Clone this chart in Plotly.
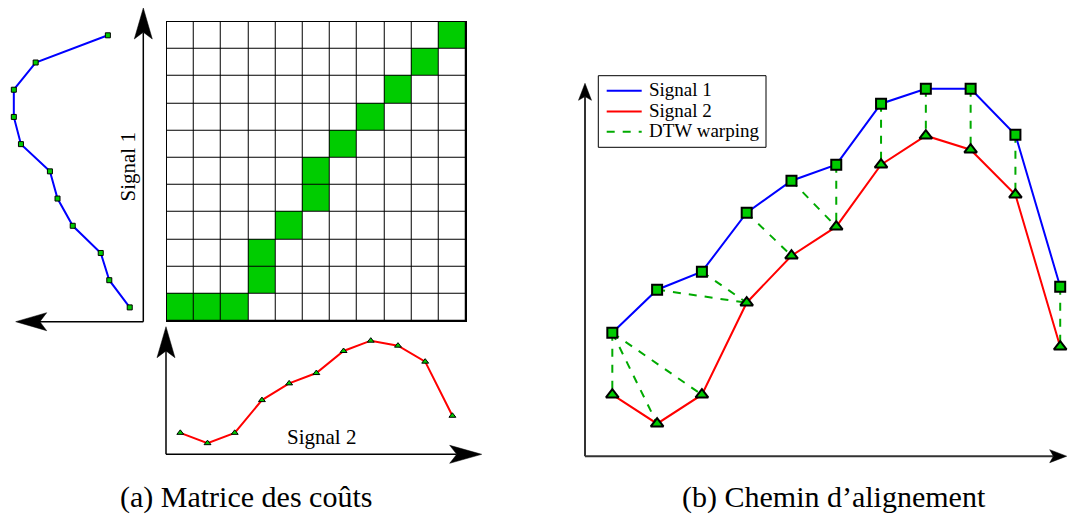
import plotly.graph_objects as go

W, H = 1068, 515

# valeurs
signal_1 = [1.24, 1.67, 1.85, 2.44, 2.76, 2.92, 3.53, 3.68, 3.68, 3.22, 1.70]
signal_2 = [0.62, 0.33, 0.62, 1.54, 2.01, 2.30, 2.92, 3.21, 3.07, 2.62, 1.10]
idx = list(range(11))

# chemin DTW : indice dans signal 1, indice dans signal 2
path_i = [0, 0, 0, 1, 2, 3, 4, 5, 6, 7, 8, 9, 10]
path_j = [0, 1, 2, 3, 3, 4, 5, 5, 6, 7, 8, 9, 10]

label_1 = "Signal 1"
label_2 = "Signal 2"
label_dtw = "DTW warping"
caption_a = "(a) Matrice des coûts"
caption_b = "(b) Chemin d’alignement"

GREEN = "#00cc00"
DASH_GREEN = "#00aa00"
SERIF = "Liberation Serif"
DASH = "8px,8px"

# matrice des couts : 1 sur le chemin
z = [[0] * len(signal_2) for _ in signal_1]
for i, j in zip(path_i, path_j):
    z[i][j] = 1

# segments d'alignement
wx, wy = [], []
for i, j in zip(path_i, path_j):
    wx += [idx[i], idx[j], None]
    wy += [signal_1[i], signal_2[j], None]

fig = go.Figure()

# (a) signal 1 vertical, a gauche
fig.add_trace(go.Scatter(x=signal_1, y=idx, xaxis="x", yaxis="y2", mode="lines+markers",
                         line=dict(color="blue", width=2), cliponaxis=False,
                         marker=dict(symbol="square", size=5, color=GREEN,
                                     line=dict(color="black", width=1))))
# (a) matrice
fig.add_trace(go.Heatmap(z=z, x=idx, y=idx, xaxis="x2", yaxis="y2", xgap=1, ygap=1,
                         colorscale=[[0, "white"], [1, GREEN]], zmin=0, zmax=1,
                         showscale=False, hoverinfo="skip"))
# (a) signal 2 en bas
fig.add_trace(go.Scatter(x=idx, y=signal_2, xaxis="x2", yaxis="y4", mode="lines+markers",
                         line=dict(color="red", width=2), cliponaxis=False,
                         marker=dict(symbol="triangle-up", size=6, color=GREEN,
                                     line=dict(color="black", width=1))))

# (b) chemin d'alignement
fig.add_trace(go.Scatter(x=wx, y=wy, xaxis="x3", yaxis="y3", mode="lines", name=label_dtw,
                         line=dict(color=DASH_GREEN, width=2, dash=DASH)))
fig.add_trace(go.Scatter(x=idx, y=signal_1, xaxis="x3", yaxis="y3", mode="lines", name=label_1,
                         line=dict(color="blue", width=2)))
fig.add_trace(go.Scatter(x=idx, y=signal_2, xaxis="x3", yaxis="y3", mode="lines", name=label_2,
                         line=dict(color="red", width=2)))
fig.add_trace(go.Scatter(x=idx, y=signal_1, xaxis="x3", yaxis="y3", mode="markers",
                         cliponaxis=False,
                         marker=dict(symbol="square", size=10, color=GREEN,
                                     line=dict(color="black", width=2))))
fig.add_trace(go.Scatter(x=idx, y=signal_2, xaxis="x3", yaxis="y3", mode="markers",
                         cliponaxis=False,
                         marker=dict(symbol="triangle-up", size=11, color=GREEN,
                                     line=dict(color="black", width=2))))

hidden = dict(visible=False)
grid_axis = dict(range=[-0.5, 10.5], showgrid=False, zeroline=False, showticklabels=False,
                 ticks="", showline=True, mirror=True, linecolor="black", linewidth=1)

fig.update_layout(
    width=W, height=H, autosize=False,
    margin=dict(l=0, r=0, t=0, b=0),
    paper_bgcolor="white", plot_bgcolor="white",
    showlegend=False,
    xaxis=dict(domain=[0, 143.3 / W], range=[3.971, 0.954], anchor="y2", **hidden),
    yaxis=dict(**hidden),
    xaxis2=dict(domain=[166.7 / W, 466 / W], anchor="y2", **grid_axis),
    yaxis2=dict(domain=[1 - 321 / H, 1 - 21.7 / H], anchor="x2", **grid_axis),
    yaxis4=dict(domain=[1 - 454.3 / H, 1 - 330 / H], range=[0.017, 3.51], anchor="x2", **hidden),
    xaxis3=dict(domain=[585 / W, 1], range=[-0.61, 10.174], anchor="y3", **hidden),
    yaxis3=dict(domain=[1 - 456.7 / H, 1], range=[0, 4.567], anchor="x3", **hidden),
    font=dict(family=SERIF, color="black"),
)

# fond noir sous la matrice -> lignes de grille
fig.add_shape(type="rect", xref="x2", yref="y2", x0=-0.5, x1=10.5, y0=-0.5, y1=10.5,
              fillcolor="black", line=dict(width=0), layer="below")


def arrow(x0, y0, x1, y1, length, width, lw, color):
    # axe avec une pointe de fleche (coordonnees en pixels)
    dx, dy = x1 - x0, y1 - y0
    norm = (dx * dx + dy * dy) ** 0.5
    ux, uy = dx / norm, dy / norm
    nx, ny = -uy, ux
    notch = (x1 - 0.78 * length * ux, y1 - 0.78 * length * uy)
    pts = [(x1, y1),
           (x1 - length * ux + width / 2 * nx, y1 - length * uy + width / 2 * ny),
           notch,
           (x1 - length * ux - width / 2 * nx, y1 - length * uy - width / 2 * ny)]
    fig.add_shape(type="line", xref="paper", yref="paper",
                  x0=x0 / W, y0=1 - y0 / H, x1=notch[0] / W, y1=1 - notch[1] / H,
                  line=dict(color=color, width=lw))
    path = "M" + " L".join(f"{px / W:.5f},{1 - py / H:.5f}" for px, py in pts) + " Z"
    fig.add_shape(type="path", xref="paper", yref="paper", path=path,
                  fillcolor="black", line=dict(color="black", width=0.5))


arrow(143.3, 321.7, 143.3, 8, 31, 18, 1.5, "black")
arrow(143.3, 321.7, 15.7, 321.7, 31, 18, 1.5, "black")
arrow(166, 454.3, 166, 326.7, 31, 18, 1.5, "black")
arrow(166, 454.3, 481.7, 454.3, 32, 18, 1.5, "black")
arrow(585, 456.2, 585, 83.3, 17, 13, 2, "#333333")
arrow(585, 456.2, 1066.7, 456.2, 17, 13, 2, "#333333")


def label(text, x, y, size, angle=0, anchor="center"):
    fig.add_annotation(text=text, x=x / W, y=1 - y / H, xref="paper", yref="paper",
                       xanchor=anchor, yanchor="middle", showarrow=False,
                       textangle=angle, font=dict(family=SERIF, size=size))


label(label_1, 127, 167.5, 21, -90)
label(label_2, 321, 437, 21)
label(caption_a, 246, 497, 30)
label(caption_b, 834, 497, 30)

# legende du panneau (b)
fig.add_shape(type="rect", xref="paper", yref="paper",
              x0=598.3 / W, x1=766 / W, y0=1 - 147.3 / H, y1=1 - 75.7 / H,
              fillcolor="white", line=dict(color="black", width=1))
legend_rows = [(label_1, "blue", "solid", 90.7), (label_2, "red", "solid", 111.5),
               (label_dtw, DASH_GREEN, DASH, 131.7)]
for text, color, dash, yy in legend_rows:
    fig.add_shape(type="line", xref="paper", yref="paper",
                  x0=606.7 / W, x1=641.7 / W, y0=1 - yy / H, y1=1 - yy / H,
                  line=dict(color=color, width=2, dash=dash))
    label(text, 646.7, yy - 1, 19, anchor="left")

fig.write_html("out.html", config={"displayModeBar": False},
               post_script="document.body.style.margin = '0px';")
